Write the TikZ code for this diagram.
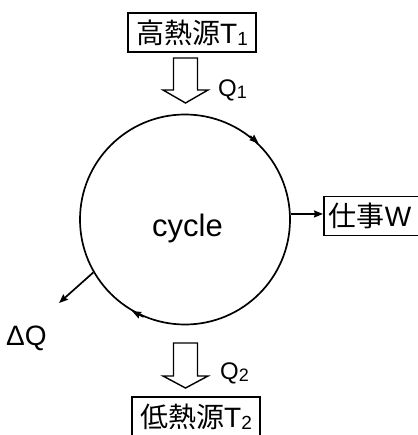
\documentclass[tikz,border=0pt]{standalone}
\usepackage{fontspec}
\setmainfont{Liberation Sans}
\newfontfamily\cjk{Noto Sans CJK JP}
\usetikzlibrary{arrows.meta}
\newcommand\lowsub[2]{{\fontsize{#1}{#1}\selectfont\raisebox{-2pt}{#2}}}
\begin{document}
\begin{tikzpicture}[x=1pt,y=-1pt,
  box/.style={draw, line width=1.8pt, minimum width=128pt, minimum height=39pt, inner sep=0pt, font=\fontsize{28}{28}\selectfont},
  lw/.style={line width=1.7pt},
  tip/.style={-{Stealth[length=9pt,width=7pt,inset=1pt]}},
  hollow/.style={draw, line width=1.4pt, line join=miter}]
\useasboundingbox (0,0) rectangle (417,435);
\node[box] (hot) at (192,32.5) {{\cjk 高熱源}T\lowsub{19}{1}};
\node[box] (cold) at (196,416.5) {{\cjk 低熱源}T\lowsub{19}{2}};
\node[box, minimum width=0pt, anchor=west, text width=92pt, align=left, inner xsep=5pt] (work) at (323,216) {{\cjk 仕事}W};
\node[draw, circle, lw, minimum size=210pt, inner sep=0pt] (cyc) at (185,219.5) {};
\node[anchor=base, font=\fontsize{31}{31}\selectfont] (lbl) at (187.5,236.7) {cycle};
\draw[lw, tip] (cyc.52) -- (cyc.46);
\draw[lw, tip] (cyc.247) -- (cyc.240);
\draw[lw, tip] (cyc.3) -- (cyc.3 -| work.west);
\coordinate (dqend) at (59,303);
\draw[lw, tip] (cyc.210) -- (dqend);
\node[anchor=base west, inner sep=0pt, font=\fontsize{28}{28}\selectfont] (dq) at (6,345) {ΔQ};
\draw[hollow] (173.5,58) -- (197.5,58) -- (197.5,90) -- (208,90) -- (185.5,103) -- (163,90) -- (173.5,90) -- cycle;
\draw[hollow] (173.5,343) -- (197.5,343) -- (197.5,376) -- (208,376) -- (185.5,388) -- (163,376) -- (173.5,376) -- cycle;
\node[anchor=base west, inner sep=0pt, font=\fontsize{24}{24}\selectfont] (q1) at (218,97) {Q\lowsub{18}{1}};
\node[anchor=base west, inner sep=0pt, font=\fontsize{24}{24}\selectfont] (q2) at (220,379) {Q\lowsub{18}{2}};
\end{tikzpicture}
\end{document}
